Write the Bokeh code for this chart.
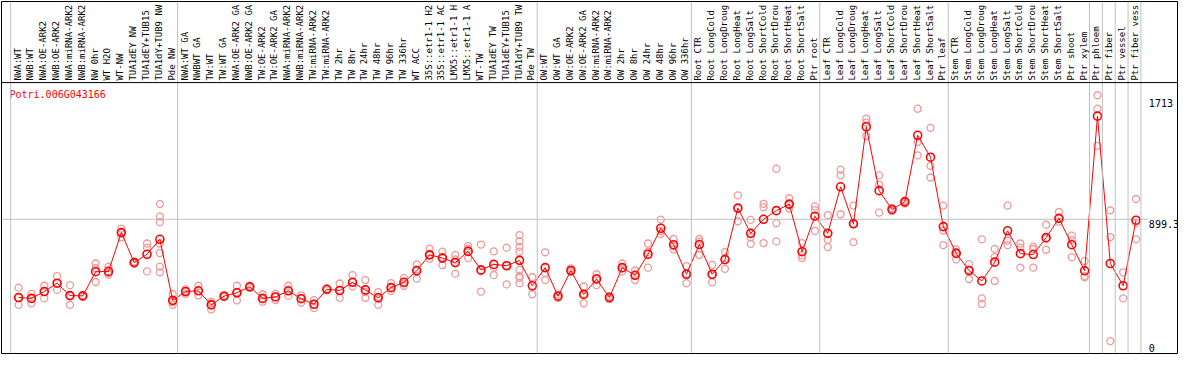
import numpy as np
from bokeh.plotting import figure
from bokeh.models import Range1d, Span
from bokeh.core.properties import value
from bokeh.embed import file_html
from bokeh.resources import INLINE

gene_name = "Potri.006G043166"

# category labels as they are shown (the long ones are cut at the top in the chart)
categories = [
    "NWA:WT", "NWB:WT", "NWA:OE-ARK2", "NWB:OE-ARK2", "NWA:miRNA-ARK2", "NWB:miRNA-ARK2",
    "NW 0hr", "WT H2O", "WT-NW", "TUA1dEY NW", "TUA1dEY+TUB15", "TUA1dY+TUB9 NW", "Pde NW",
    "NWA:WT GA", "NWBWT GA", "TW:WT", "TW:WT GA", "NWA:OE-ARK2 GA", "NWB:OE-ARK2 GA",
    "TW:OE-ARK2", "TW:OE-ARK2 GA", "NWA:miRNA-ARK2", "NWB:miRNA-ARK2", "TW:miRNA-ARK2",
    "TW:miRNA-ARK2", "TW 2hr", "TW 8hr", "TW 24hr", "TW 48hr", "TW 96hr", "TW 336hr",
    "WT ACC", "35S::etr1-1 H2", "35S::etr1-1 AC", "LMX5::etr1-1 H", "LMX5::etr1-1 A",
    "WT-TW", "TUA1dEY TW", "TUA1dEY+TUB15", "TUA1dY+TUB9 TW", "Pde TW",
    "OW:WT", "OW:WT GA", "OW:OE-ARK2", "OW:OE-ARK2 GA", "OW:miRNA-ARK2", "OW:miRNA-ARK2",
    "OW 2hr", "OW 8hr", "OW 24hr", "OW 48hr", "OW 96hr", "OW 336hr",
    "Root CTR", "Root LongCold", "Root LongDroug", "Root LongHeat", "Root LongSalt",
    "Root ShortCold", "Root ShortDrou", "Root ShortHeat", "Root ShortSalt", "Ptr root",
    "Leaf CTR", "Leaf LongCold", "Leaf LongDroug", "Leaf LongHeat", "Leaf LongSalt",
    "Leaf ShortCold", "Leaf ShortDrou", "Leaf ShortHeat", "Leaf ShortSalt", "Ptr leaf",
    "Stem CTR", "Stem LongCold", "Stem LongDroug", "Stem LongHeat", "Stem LongSalt",
    "Stem ShortCold", "Stem ShortDrou", "Stem ShortHeat", "Stem ShortSalt", "Ptr shoot",
    "Ptr xylem", "Ptr phloem", "Ptr fiber", "Ptr vessel", "Ptr fiber vess",
]

group_sizes = [13, 28, 12, 10, 10, 11, 1, 1, 1, 1]

mean_values = [
    375, 369, 415, 471, 388, 386, 548, 550, 810, 609, 665, 765, 356,
    415, 420, 326, 384, 407, 447, 369, 379, 420, 367, 330, 430, 422, 477, 426, 373,
    441, 477, 554, 661, 639, 609, 684, 560, 597, 588, 624, 454,
    575, 384, 556, 396, 499, 375, 575, 524, 665, 839, 729, 531,
    730, 531, 629, 974, 805, 899, 957, 1001, 682, 920,
    805, 1117, 869, 1519, 1091, 965, 1016, 1462, 1315, 850,
    671, 556, 486, 612, 822, 669, 663, 776, 905, 729, 554,
    1590, 603, 454, 893,
]

sample_values = [
    [441, 375, 326], [399, 369, 336], [454, 415, 369], [518, 471, 426], [458, 388, 326],
    [390, 380, 386], [603, 571, 479], [582, 540, 529], [837, 810, 778], [615, 609, 603],
    [737, 709, 550], [1001, 918, 880, 737, 673, 582, 544], [397, 345, 326],
    [430, 415, 400], [454, 420, 390], [347, 335, 295], [390, 384, 378], [454, 410, 356],
    [454, 447, 440], [397, 365, 347], [399, 380, 358], [454, 420, 386], [390, 370, 341],
    [358, 327, 305], [435, 430, 425], [469, 425, 373], [525, 477, 450], [492, 412, 373],
    [411, 380, 326], [471, 441, 418], [507, 470, 454], [597, 563, 501], [703, 660, 635],
    [682, 645, 593], [661, 630, 535], [720, 700, 639], [730, 550, 415], [684, 575, 525],
    [709, 590, 463], [793, 752, 714, 682, 560, 520, 507, 471], [511, 397],
    [678, 539, 492], [395, 384, 372], [570, 556, 545], [449, 400, 336], [531, 505, 458],
    [385, 375, 365], [603, 570, 550], [556, 524, 492], [737, 680, 575], [897, 820, 801],
    [767, 720, 697], [586, 535, 471],
    [767, 750, 660], [594, 525, 477], [680, 640, 567], [1059, 974, 886], [895, 778, 735],
    [1003, 980, 740], [1238, 873, 751], [1040, 995, 970], [740, 657, 640], [986, 961, 822],
    [927, 762, 713], [1232, 1193, 933], [991, 869, 746], [1573, 1547, 1457],
    [1193, 1131, 944], [975, 965, 955], [1025, 1016, 1005], [1640, 1417, 1327],
    [1512, 1257, 1179], [991, 824, 726],
    [697, 680, 631], [599, 560, 499], [765, 369, 332], [701, 645, 486], [991, 757, 726],
    [737, 709, 575], [716, 700, 575], [863, 770, 695], [948, 905, 884], [790, 760, 645],
    [619, 520, 511],
    [1730, 1640, 1391], [959, 780, 83], [544, 369], [1035, 876, 765],
]

axis_tick_values = [1713, 899.3, 0]
axis_tick_labels = ["1713", "899.3", "0"]

# ---- layout ----
W, H = 1178, 354
PLOT_TOP = 1815            # data value at the black line under the labels
band_frac = 85 / 369       # share of the frame taken by the label band
y_top = PLOT_TOP / (1 - band_frac)
n = len(categories)
x_start, x_end = -1.33, n + 2.23

p = figure(width=W, height=H, output_backend="svg", toolbar_location=None,
           x_range=Range1d(x_start, x_end), y_range=Range1d(0, y_top),
           min_border_left=1, min_border_right=1, min_border_top=1, min_border_bottom=1)
p.axis.visible = False
p.grid.visible = False
p.outline_line_color = "black"
p.outline_line_width = 1
p.background_fill_color = "white"
p.border_fill_color = "white"

MONO = value("DejaVu Sans Mono")
GRAY = "#c0c0c0"

# group separators
bounds = np.concatenate([[0], np.cumsum(group_sizes)]) - 0.62
for b in bounds:
    p.add_layout(Span(location=float(b), dimension="height", line_color=GRAY, line_width=1))

# line under the labels
p.add_layout(Span(location=PLOT_TOP, dimension="width", line_color="black", line_width=1))

# grid line at the middle tick
p.segment(x0=[x_start], y0=[axis_tick_values[1]], x1=[n - 0.08], y1=[axis_tick_values[1]],
          line_color=GRAY, line_width=1)

# category labels (vertical)
idx = np.arange(n)
p.text(x=idx, y=[PLOT_TOP] * n, text=categories, angle=np.pi / 2,
       text_align="left", text_baseline="middle", x_offset=-1, y_offset=-2,
       text_font=MONO, text_font_size=value("9px"), text_color="black")

# individual samples
sx, sy = [], []
for i, vals in enumerate(sample_values):
    for v in vals:
        sx.append(i)
        sy.append(v)
p.scatter(x=sx, y=sy, marker="circle", size=7, fill_color=None,
          line_color="#ec9a9a", line_width=1.3)

# mean line + markers
p.line(x=idx, y=mean_values, line_color="red", line_width=1)
p.scatter(x=idx, y=mean_values, marker="circle", size=8, fill_color=None,
          line_color="red", line_width=1.6)

# right-side value labels
p.text(x=[n, n], y=axis_tick_values[:2], text=axis_tick_labels[:2],
       text_align="left", text_baseline="top", y_offset=1,
       text_font=MONO, text_font_size=value("10px"), text_color="black")
p.text(x=[n], y=axis_tick_values[2:], text=axis_tick_labels[2:],
       text_align="left", text_baseline="bottom", y_offset=-2,
       text_font=MONO, text_font_size=value("10px"), text_color="black")

# gene title
p.text(x=[x_start], y=[PLOT_TOP], text=[gene_name], x_offset=8, y_offset=6,
       text_align="left", text_baseline="top",
       text_font=MONO, text_font_size=value("10px"), text_color="red")

open("out.html", "w").write(file_html(p, INLINE))
